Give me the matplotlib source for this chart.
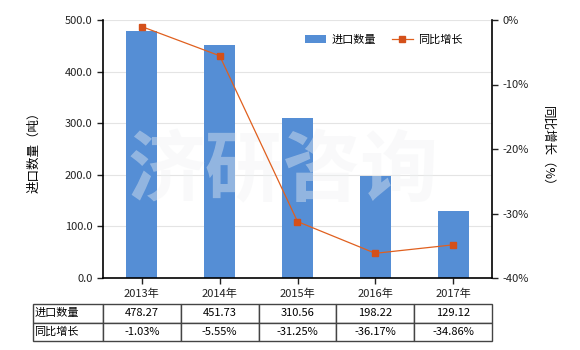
import matplotlib.pyplot as plt
from matplotlib.ticker import FuncFormatter

plt.rcParams['font.family'] = ['Noto Sans CJK SC', 'DejaVu Sans']

years = ['2013年', '2014年', '2015年', '2016年', '2017年']
qty = [478.27, 451.73, 310.56, 198.22, 129.12]
growth = [-1.03, -5.55, -31.25, -36.17, -34.86]
qty_labels = ['478.27', '451.73', '310.56', '198.22', '129.12']
growth_labels = ['-1.03%', '-5.55%', '-31.25%', '-36.17%', '-34.86%']

bar_color = '#558ed5'
line_color = '#e0601f'

fig = plt.figure(figsize=(5.8, 3.5), dpi=100)
W, H = 580, 350
ax = fig.add_axes([103 / W, 1 - 278 / H, (492 - 103) / W, (278 - 20) / H])

x = list(range(len(years)))
bars = ax.bar(x, qty, width=0.4, color=bar_color, label='进口数量', zorder=2)
ax.set_xlim(-0.5, len(years) - 0.5)
ax.set_ylim(0, 500)
ax.set_yticks([0, 100, 200, 300, 400, 500])
ax.yaxis.set_major_formatter(FuncFormatter(lambda v, p: '%.1f' % v))
ax.set_xticks(x)
ax.set_xticklabels(years)
ax.grid(axis='y', color='#e4e4e4', linewidth=0.8, zorder=0)
ax.tick_params(labelsize=8, length=4, width=1, colors='#222222')
ax.set_ylabel('进口数量（吨）', fontsize=9, labelpad=18)
for s in ['top', 'right']:
    ax.spines[s].set_visible(False)
for s in ['left', 'bottom']:
    ax.spines[s].set_linewidth(1.2)

# watermark, above the bars but under the line
ax.text(283 / W, 1 - 173 / H, '济研咨询', transform=fig.transFigure,
        fontsize=56, color='#f0f2f3', alpha=0.4, ha='center', va='center',
        fontweight='bold', zorder=5)

ax2 = ax.twinx()
line, = ax2.plot(x, growth, color=line_color, linewidth=0.9, marker='s',
                 markersize=5, markerfacecolor='#d4501a', markeredgecolor='#d4501a',
                 label='同比增长', zorder=3)
ax2.set_ylim(-40, 0)
ax2.set_yticks([-40, -30, -20, -10, 0])
ax2.yaxis.set_major_formatter(FuncFormatter(lambda v, p: '%d%%' % v))
ax2.tick_params(labelsize=8, length=4, width=1, colors='#222222')
ax2.set_ylabel('同比增长（%）', fontsize=9, rotation=270, labelpad=18)
for s in ['top', 'left', 'bottom']:
    ax2.spines[s].set_visible(False)
ax2.spines['right'].set_linewidth(1.2)

fig.legend([bars, line], ['进口数量', '同比增长'], loc='center',
           bbox_to_anchor=(384 / W, 1 - 40 / H), ncol=2, frameon=False,
           fontsize=8, handlelength=1.9, handletextpad=0.5, columnspacing=1.4)

# data table
tax = fig.add_axes([33 / W, 1 - 341 / H, (492 - 33) / W, 37 / H])
tax.axis('off')
cells = [['进口数量'] + qty_labels, ['同比增长'] + growth_labels]
cw = [70] + [77.8] * 5
tot = sum(cw)
tbl = tax.table(cellText=cells, colWidths=[c / tot for c in cw],
                bbox=[0, 0, 1, 1], cellLoc='center')
tbl.auto_set_font_size(False)
tbl.set_fontsize(8)
for (r, c), cell in tbl.get_celld().items():
    cell.set_edgecolor('#444444')
    cell.set_linewidth(1)
    if c == 0:
        cell.set_text_props(ha='left')
        cell._loc = 'left'
        cell.PAD = 0.02

fig.savefig('out.png', dpi=100)
